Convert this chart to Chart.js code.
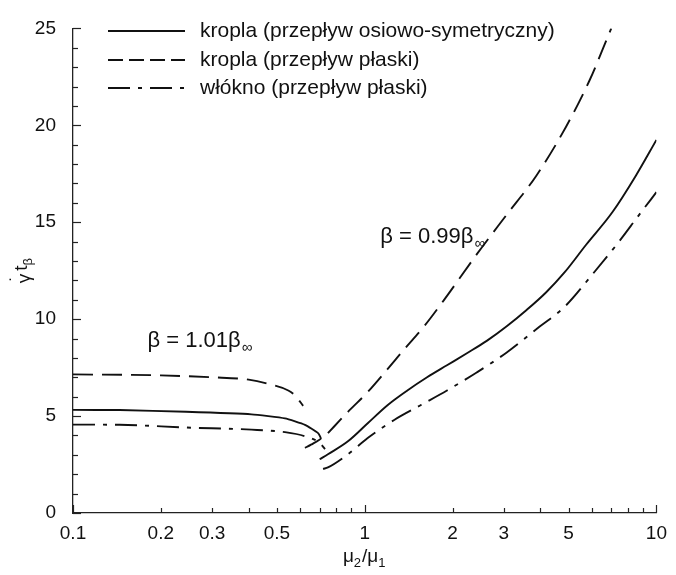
<!DOCTYPE html>
<html>
<head>
<meta charset="utf-8">
<script src="https://cdn.jsdelivr.net/npm/chart.js@4/dist/chart.umd.min.js"></script>
<style>
  html, body { margin: 0; padding: 0; background: #fff; }
  #wrap { width: 676px; height: 575px; }
</style>
</head>
<body>
<div id="wrap"><canvas id="c" width="676" height="575"></canvas></div>
<script>
// Axis ticks
const xTicks = [0.1, 0.2, 0.3, 0.5, 1, 2, 3, 5, 10];
const yTicks = [0, 5, 10, 15, 20, 25];

// Legend entries
const seriesNames = [
  'kropla (przepływ osiowo-symetryczny)',
  'kropla (przepływ płaski)',
  'włókno (przepływ płaski)'
];

// Drop, axisymmetric flow: [mu2/mu1, gamma-dot * t_beta]
const axisymLow = [[0.1, 5.32], [0.1445, 5.31], [0.244, 5.22], [0.409, 5.09], [0.533, 4.88],
  [0.624, 4.55], [0.692, 4.12], [0.707, 3.84], [0.665, 3.58], [0.624, 3.36]];
const axisymHigh = [[0.701, 2.77], [0.748, 3.03], [0.876, 3.70], [1.024, 4.63], [1.197, 5.56],
  [1.40, 6.32], [1.636, 7.00], [1.914, 7.62], [2.24, 8.24], [2.62, 8.88], [3.06, 9.62],
  [3.58, 10.46], [4.19, 11.39], [4.84, 12.41], [5.74, 13.84], [7.07, 15.53], [8.49, 17.39], [10, 19.25]];

// Drop, planar flow
const planarDropLow = [[0.1, 7.15], [0.2, 7.10], [0.3, 7.00], [0.4, 6.88], [0.468, 6.66],
  [0.547, 6.32], [0.578, 6.05], [0.615, 5.53]];
const planarDropHigh = [[0.748, 4.12], [0.876, 5.22], [1.024, 6.24], [1.197, 7.42], [1.365, 8.44],
  [1.596, 9.62], [1.866, 10.97], [2.42, 13.34], [3.06, 15.37], [3.87, 17.39], [4.90, 19.93],
  [5.89, 22.30], [7.0, 25.0]];

// Fibre, planar flow
const fibreLow = [[0.1, 4.56], [0.1445, 4.55], [0.244, 4.41], [0.409, 4.30], [0.533, 4.17],
  [0.624, 3.96], [0.70, 3.62], [0.731, 3.30]];
const fibreHigh = [[0.72, 2.27], [0.748, 2.35], [0.876, 3.03], [1.024, 3.87], [1.262, 4.80],
  [1.554, 5.56], [1.914, 6.32], [2.42, 7.25], [3.06, 8.27], [3.98, 9.62], [4.84, 10.63],
  [6.04, 12.32], [7.45, 14.01], [8.71, 15.37], [10, 16.55]];

// Curve annotations
const notes = [
  { text: 'β = 1.01β', sub: '∞', at: [0.18, 8.87] },
  { text: 'β = 0.99β', sub: '∞', at: [1.13, 14.25] }
];

const INK = '#111';
const FONT = "'Liberation Sans', Arial, sans-serif";
const dashStyles = [[], [20, 9], [22, 8, 4, 8]];

function toPts(arr) { return arr.map(p => ({ x: p[0], y: p[1] })); }
// monotone: branch is single-valued in x; otherwise a plain Bezier tension
function ds(arr, style, monotone) {
  const d = {
    data: toPts(arr), showLine: true, borderColor: INK, borderWidth: 1.9,
    borderDash: dashStyles[style], pointRadius: 0, fill: false
  };
  if (monotone) d.cubicInterpolationMode = 'monotone';
  else d.tension = 0.15;
  return d;
}

// Text with an optional subscript part
function textWithSub(ctx, main, sub, x, y, size) {
  ctx.textAlign = 'left';
  ctx.textBaseline = 'middle';
  ctx.font = size + 'px ' + FONT;
  const wMain = ctx.measureText(main).width;
  ctx.fillText(main, x, y);
  if (sub) {
    ctx.font = Math.round(size * 0.68) + 'px ' + FONT;
    ctx.fillText(sub, x + wMain + 1, y + size * 0.32);
  }
}

const decorPlugin = {
  id: 'decor',
  afterDraw(chart) {
    const ctx = chart.ctx;
    const xs = chart.scales.x, ys = chart.scales.y;
    const area = chart.chartArea;
    ctx.save();
    ctx.strokeStyle = '#222';
    ctx.fillStyle = INK;
    ctx.lineWidth = 1.2;
    // inward ticks on the x axis (decades major, 2..9 minor)
    const xVals = [];
    [0.1, 1].forEach(d => { for (let k = 1; k <= 9; k++) xVals.push({ v: k * d, major: k === 1 }); });
    xVals.push({ v: 10, major: true });
    xVals.forEach(t => {
      const px = Math.round(xs.getPixelForValue(t.v)) + 0.5;
      ctx.beginPath();
      ctx.moveTo(px, area.bottom);
      ctx.lineTo(px, area.bottom - (t.major ? 8 : 5));
      ctx.stroke();
    });
    // inward ticks on the y axis (every 5 major, every 1 minor)
    for (let v = ys.min; v <= ys.max; v++) {
      const py = Math.round(ys.getPixelForValue(v)) + 0.5;
      ctx.beginPath();
      ctx.moveTo(area.left, py);
      ctx.lineTo(area.left + (v % 5 === 0 ? 8 : 5), py);
      ctx.stroke();
    }
    // x axis title
    const cx = (area.left + area.right) / 2;
    const parts = [['μ', 0], ['2', 1], ['/', 0], ['μ', 0], ['1', 1]];
    let total = 0;
    parts.forEach(p => { ctx.font = (p[1] ? 13 : 19) + 'px ' + FONT; total += ctx.measureText(p[0]).width + (p[1] ? 1 : 0); });
    let tx = cx - total / 2;
    ctx.textBaseline = 'middle';
    ctx.textAlign = 'left';
    parts.forEach(p => {
      ctx.font = (p[1] ? 13 : 19) + 'px ' + FONT;
      ctx.fillText(p[0], tx, 557 + (p[1] ? 6 : 0));
      tx += ctx.measureText(p[0]).width + (p[1] ? 1 : 0);
    });
    // y axis title (rotated)
    ctx.save();
    ctx.translate(22, (area.top + area.bottom) / 2);
    ctx.rotate(-Math.PI / 2);
    ctx.font = '19px ' + FONT;
    const wG = ctx.measureText('γ').width, wT = ctx.measureText('t').width;
    ctx.font = '13px ' + FONT;
    const wB = ctx.measureText('β').width;
    let ry = -(wG + 3 + wT + wB) / 2;
    ctx.font = '19px ' + FONT;
    ctx.fillText('γ', ry, 3);
    ctx.textAlign = 'center';
    ctx.fillText('˙', ry + wG / 2, -4);
    ctx.textAlign = 'left';
    ry += wG + 3;
    ctx.fillText('t', ry, 0);
    ry += wT;
    ctx.font = '13px ' + FONT;
    ctx.fillText('β', ry, 6);
    ctx.restore();
    // legend
    const legendY = [31, 60, 88];
    seriesNames.forEach((name, i) => {
      ctx.save();
      ctx.lineWidth = 1.9;
      ctx.strokeStyle = INK;
      ctx.setLineDash(i === 1 ? [15, 6] : dashStyles[i]);
      ctx.beginPath();
      ctx.moveTo(108, legendY[i]);
      ctx.lineTo(185, legendY[i]);
      ctx.stroke();
      ctx.restore();
      ctx.font = '21px ' + FONT;
      ctx.textAlign = 'left';
      ctx.textBaseline = 'middle';
      ctx.fillText(name, 200, legendY[i]);
    });
    // curve annotations
    notes.forEach(n => {
      const px = xs.getPixelForValue(n.at[0]);
      const py = ys.getPixelForValue(n.at[1]);
      textWithSub(ctx, n.text, n.sub, px, py, 22);
    });
    ctx.restore();
  }
};

new Chart(document.getElementById('c'), {
  type: 'scatter',
  data: {
    datasets: [
      ds(axisymLow, 0, false), ds(axisymHigh, 0, true),
      ds(planarDropLow, 1, true), ds(planarDropHigh, 1, true),
      ds(fibreLow, 2, true), ds(fibreHigh, 2, true)
    ]
  },
  options: {
    responsive: false,
    animation: false,
    devicePixelRatio: 1,
    layout: { padding: { top: 20, right: 15, left: 0, bottom: 0 } },
    plugins: { legend: { display: false }, tooltip: { enabled: false } },
    scales: {
      x: {
        type: 'logarithmic', min: 0.1, max: 10,
        afterBuildTicks: s => { s.ticks = xTicks.map(v => ({ value: v })); },
        afterFit: s => { s.height = 62; },
        ticks: { callback: v => String(v), color: INK, font: { family: FONT, size: 19 },
          padding: 9, maxRotation: 0, autoSkip: false },
        grid: { display: false, drawTicks: false },
        border: { display: true, color: '#222', width: 1.3 }
      },
      y: {
        type: 'linear', min: 0, max: 25,
        afterBuildTicks: s => { s.ticks = yTicks.map(v => ({ value: v })); },
        afterFit: s => { s.width = 73; },
        ticks: { color: INK, font: { family: FONT, size: 19 }, padding: 17 },
        grid: { display: false, drawTicks: false },
        border: { display: true, color: '#222', width: 1.3 }
      }
    }
  },
  plugins: [decorPlugin]
});
</script>
</body>
</html>
